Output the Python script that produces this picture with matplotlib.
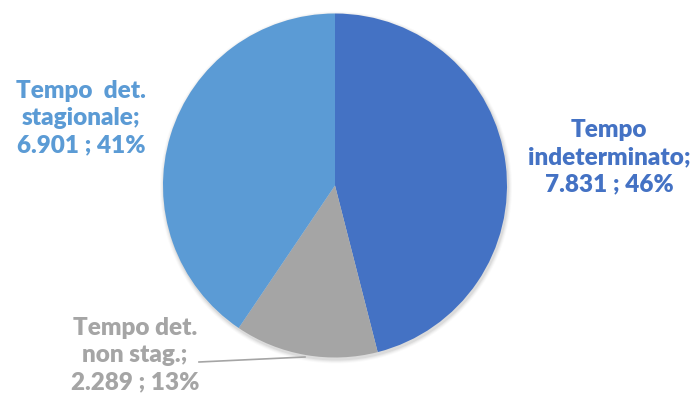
import matplotlib.pyplot as plt
from matplotlib.patches import Circle

categories = ["Tempo\nindeterminato;", "Tempo det.\nnon stag.;", "Tempo  det.\nstagionale;"]
values = [7831, 2289, 6901]
value_labels = ["7.831", "2.289", "6.901"]
colors = ["#4472C4", "#A5A5A5", "#5B9BD5"]

W, H = 695, 399
fig = plt.figure(figsize=(W / 100, H / 100), dpi=100)
ax = fig.add_axes([0, 0, 1, 1])
ax.set_xlim(0, W)
ax.set_ylim(0, H)
ax.set_aspect("equal")
ax.axis("off")

cx, cy, r = 335, H - 185.5, 172

# soft drop shadow under the pie
for i, a in enumerate([0.05, 0.04, 0.03, 0.02]):
    ax.add_patch(Circle((cx + 1, cy - 2), r + 1 + i, color="black", alpha=a, lw=0, zorder=0))

wedges, _ = ax.pie(values, colors=colors, startangle=90, counterclock=False,
                   center=(cx, cy), radius=r, frame=True,
                   wedgeprops=dict(linewidth=0))
ax.set_xlim(0, W)
ax.set_ylim(0, H)
ax.axis("off")

total = sum(values)
pcts = [round(v / total * 100) for v in values]
texts = [f"{c}\n{vl} ; {p}%" for c, vl, p in zip(categories, value_labels, pcts)]
positions = [(609, H - 157), (135, H - 355), (81, H - 118)]

for t, (x, y), col in zip(texts, positions, colors):
    ax.text(x, y, t, ha="center", va="center", color=col, fontsize=17.5,
            fontweight="heavy", family="Lato", linespacing=1.3)

# leader line for the small slice
ax.plot([199, 305], [H - 362, H - 357], color="#A5A5A5", lw=1.2, zorder=3)

fig.savefig("out.png", dpi=100)
